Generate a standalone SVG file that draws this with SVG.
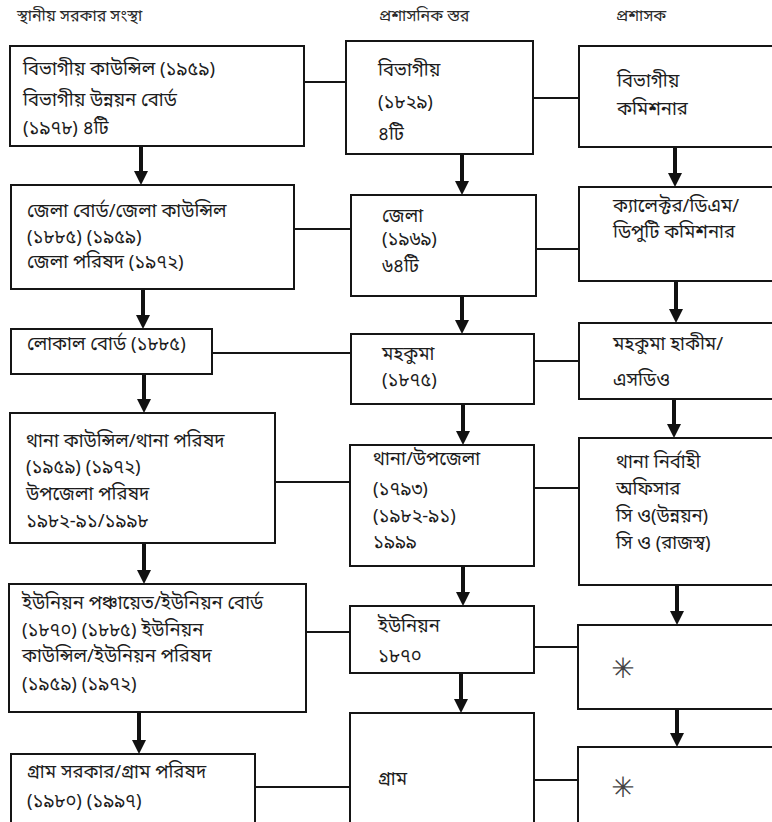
<svg xmlns="http://www.w3.org/2000/svg" width="772" height="822" viewBox="0 0 772 822">
<defs>
<style>
.bx{fill:none;stroke:#151515;stroke-width:2}
.t{font-family:"Noto Sans Bengali","Noto Serif Bengali","Lohit Bengali","Mukti","Noto Sans",sans-serif;font-size:18.5px;fill:#1c1c1c}
.h{font-family:"Noto Sans Bengali","Noto Serif Bengali","Lohit Bengali","Mukti","Noto Sans",sans-serif;font-size:16px;fill:#2a2a2a}
.st{font-family:"DejaVu Sans",sans-serif;font-size:28px;fill:#444}
.cn{stroke:#151515;stroke-width:2;fill:none}
.ar{stroke:#111;stroke-width:4;fill:none;marker-end:url(#ah)}
</style>
<marker id="ah" markerWidth="16" markerHeight="16" refX="6" refY="7" orient="auto" markerUnits="userSpaceOnUse">
<path d="M0,0 L14,7 L0,14 z" fill="#111"/>
</marker>
</defs>
<rect width="772" height="822" fill="#ffffff"/>
<g id="headers">
<text class="h" x="17" y="21">স্থানীয় সরকার সংস্থা</text>
<text class="h" x="379" y="21">প্রশাসনিক স্তর</text>
<text class="h" x="616" y="21">প্রশাসক</text>
</g>
<g id="connectors">
<line class="cn" x1="304" y1="82" x2="346" y2="82"/>
<line class="cn" x1="533" y1="98" x2="579" y2="98"/>
<line class="cn" x1="294" y1="229" x2="351" y2="229"/>
<line class="cn" x1="536" y1="249" x2="579" y2="249"/>
<line class="cn" x1="212" y1="353" x2="351" y2="353"/>
<line class="cn" x1="534" y1="361" x2="579" y2="361"/>
<line class="cn" x1="275" y1="482" x2="350" y2="482"/>
<line class="cn" x1="534" y1="488" x2="579" y2="488"/>
<line class="cn" x1="306" y1="632" x2="350" y2="632"/>
<line class="cn" x1="534" y1="647" x2="578" y2="647"/>
<line class="cn" x1="255" y1="787" x2="350" y2="787"/>
<line class="cn" x1="534" y1="780" x2="578" y2="780"/>
<line class="ar" x1="141" y1="147" x2="141" y2="177"/>
<line class="ar" x1="462" y1="155" x2="462" y2="187"/>
<line class="ar" x1="675" y1="148" x2="675" y2="179"/>
<line class="ar" x1="143" y1="290" x2="143" y2="321"/>
<line class="ar" x1="462" y1="297" x2="462" y2="326"/>
<line class="ar" x1="676" y1="282" x2="676" y2="315"/>
<line class="ar" x1="144" y1="375" x2="144" y2="405"/>
<line class="ar" x1="463" y1="405" x2="463" y2="437"/>
<line class="ar" x1="674" y1="400" x2="674" y2="430"/>
<line class="ar" x1="144" y1="544" x2="144" y2="576"/>
<line class="ar" x1="463" y1="567" x2="463" y2="598"/>
<line class="ar" x1="677" y1="586" x2="677" y2="617"/>
<line class="ar" x1="139" y1="713" x2="139" y2="746"/>
<line class="ar" x1="461" y1="674" x2="461" y2="705"/>
<line class="ar" x1="677" y1="710" x2="677" y2="739"/>
</g>
<g id="L1"><rect class="bx" x="10" y="46" width="294" height="100"/>
<text class="t" x="23" y="75">বিভাগীয় কাউন্সিল (১৯৫৯)</text>
<text class="t" x="23" y="106">বিভাগীয় উন্নয়ন বোর্ড</text>
<text class="t" x="23" y="134">(১৯৭৮) ৪টি</text></g>
<g id="M1"><rect class="bx" x="346" y="41" width="187" height="113"/>
<text class="t" x="378" y="76">বিভাগীয়</text>
<text class="t" x="378" y="108">(১৮২৯)</text>
<text class="t" x="378" y="140">৪টি</text></g>
<g id="R1"><rect class="bx" x="579" y="46" width="200" height="101"/>
<text class="t" x="617" y="87">বিভাগীয়</text>
<text class="t" x="617" y="115">কমিশনার</text></g>
<g id="L2"><rect class="bx" x="11" y="185" width="283" height="104"/>
<text class="t" x="27" y="217">জেলা বোর্ড/জেলা কাউন্সিল</text>
<text class="t" x="27" y="243">(১৮৮৫) (১৯৫৯)</text>
<text class="t" x="27" y="268">জেলা পরিষদ (১৯৭২)</text></g>
<g id="M2"><rect class="bx" x="351" y="195" width="185" height="101"/>
<text class="t" x="382" y="222">জেলা</text>
<text class="t" x="382" y="245">(১৯৬৯)</text>
<text class="t" x="382" y="272">৬৪টি</text></g>
<g id="R2"><rect class="bx" x="579" y="187" width="200" height="94"/>
<text class="t" x="613" y="212">ক্যালেক্টর/ডিএম/</text>
<text class="t" x="613" y="238">ডিপুটি কমিশনার</text></g>
<g id="L3"><rect class="bx" x="11" y="329" width="201" height="45"/>
<text class="t" x="27" y="350">লোকাল বোর্ড (১৮৮৫)</text></g>
<g id="M3"><rect class="bx" x="351" y="334" width="183" height="70"/>
<text class="t" x="382" y="360">মহকুমা</text>
<text class="t" x="382" y="386">(১৮৭৫)</text></g>
<g id="R3"><rect class="bx" x="579" y="323" width="200" height="76"/>
<text class="t" x="613" y="350">মহকুমা হাকীম/</text>
<text class="t" x="613" y="386">এসডিও</text></g>
<g id="L4"><rect class="bx" x="10" y="413" width="265" height="130"/>
<text class="t" x="26" y="447">থানা কাউন্সিল/থানা পরিষদ</text>
<text class="t" x="26" y="473">(১৯৫৯) (১৯৭২)</text>
<text class="t" x="26" y="500">উপজেলা পরিষদ</text>
<text class="t" x="26" y="527">১৯৮২-৯১/১৯৯৮</text></g>
<g id="M4"><rect class="bx" x="350" y="445" width="184" height="121"/>
<text class="t" x="373" y="465">থানা/উপজেলা</text>
<text class="t" x="373" y="495">(১৭৯৩)</text>
<text class="t" x="373" y="522">(১৯৮২-৯১)</text>
<text class="t" x="373" y="548">১৯৯৯</text></g>
<g id="R4"><rect class="bx" x="579" y="438" width="200" height="147"/>
<text class="t" x="616" y="468">থানা নির্বাহী</text>
<text class="t" x="616" y="495">অফিসার</text>
<text class="t" x="616" y="522">সি ও(উন্নয়ন)</text>
<text class="t" x="616" y="549">সি ও (রাজস্ব)</text></g>
<g id="L5"><rect class="bx" x="9" y="584" width="297" height="128"/>
<text class="t" x="22" y="609">ইউনিয়ন পঞ্চায়েত/ইউনিয়ন বোর্ড</text>
<text class="t" x="22" y="636">(১৮৭০) (১৮৮৫) ইউনিয়ন</text>
<text class="t" x="22" y="662">কাউন্সিল/ইউনিয়ন পরিষদ</text>
<text class="t" x="22" y="690">(১৯৫৯) (১৯৭২)</text></g>
<g id="M5"><rect class="bx" x="350" y="606" width="184" height="67"/>
<text class="t" x="378" y="632">ইউনিয়ন</text>
<text class="t" x="378" y="662">১৮৭০</text></g>
<g id="R5"><rect class="bx" x="578" y="625" width="200" height="84"/>
<text class="st" x="623" y="678" text-anchor="middle">✳</text></g>
<g id="L6"><rect class="bx" x="11" y="754" width="244" height="80"/>
<text class="t" x="27" y="778">গ্রাম সরকার/গ্রাম পরিষদ</text>
<text class="t" x="27" y="807">(১৯৮০) (১৯৯৭)</text></g>
<g id="M6"><rect class="bx" x="350" y="713" width="184" height="120"/>
<text class="t" x="378" y="785">গ্রাম</text></g>
<g id="R6"><rect class="bx" x="578" y="747" width="200" height="90"/>
<text class="st" x="623" y="797" text-anchor="middle">✳</text></g>
</svg>
